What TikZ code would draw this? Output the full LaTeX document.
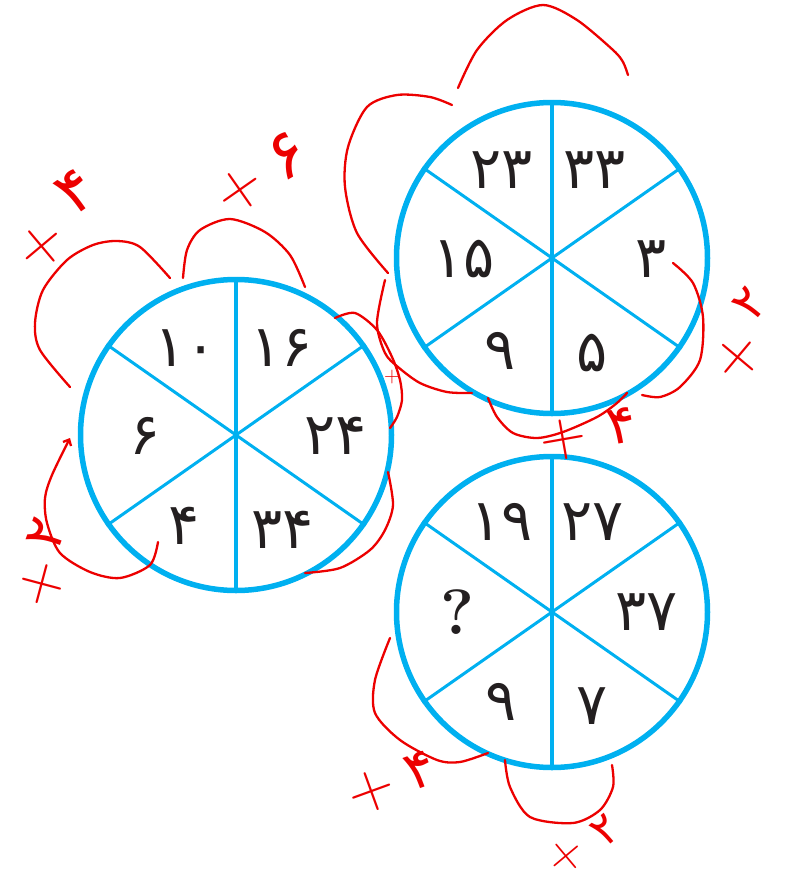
\documentclass[tikz,border=0pt]{standalone}
\usepackage{fontspec}
\usepackage{tikz}
\usetikzlibrary{arrows.meta}
\newfontfamily\farsi{DejaVu Sans}
\definecolor{ringblue}{RGB}{0,176,240}
\definecolor{ink}{RGB}{35,31,32}
\definecolor{redpen}{RGB}{236,0,0}

\begin{document}
\begin{tikzpicture}[
    x=1pt,y=-1pt,
    wheel/.style={circle,draw=ringblue,line width=5.5pt,minimum size=311pt,inner sep=0pt},
    axis/.style={draw=ringblue,line width=4pt},
    spoke/.style={draw=ringblue,line width=3pt},
    num/.style={text=ink,font=\farsi\fontsize{58}{58}\selectfont,inner sep=0pt},
    arc/.style={draw=redpen,line width=2.3pt,line cap=round,line join=round},
    plus/.style={text=redpen,font=\fontsize{64}{64}\selectfont,inner sep=0pt},
    hand/.style={text=redpen,font=\farsi\fontsize{54}{54}\selectfont,inner sep=0pt}
]
    \useasboundingbox (0,0) rectangle (787,887);

    % the three wheels
    \node[wheel] (w1) at (236,435) {};
    \node[wheel] (w2) at (552,258) {};
    \node[wheel] (w3) at (552,612) {};
    \foreach \w in {w1,w2,w3} {
        \draw[axis] (\w.north) -- (\w.south);
        \foreach \a in {35,145,215,325}
            \draw[spoke] (\w.center) -- (\w.\a);
    }

    % numbers
    \node[num] (a10) at (186,348) {۱۰};
    \node[num] (a16) at (282,348) {۱۶};
    \node[num] (a6)  at (145,436) {۶};
    \node[num] (a24) at (336,436) {۲۴};
    \node[num] (a4)  at (184,526) {۴};
    \node[num] (a34) at (283,530) {۳۴};

    \node[num] (b23) at (502,170) {۲۳};
    \node[num] (b33) at (595,170) {۳۳};
    \node[num] (b15) at (464,259) {۱۵};
    \node[num] (b3)  at (651,259) {۳};
    \node[num] (b9)  at (500,351) {۹};
    \node[num] (b5)  at (592,353) {۵};

    \node[num] (c19) at (502,522) {۱۹};
    \node[num] (c27) at (593,522) {۲۷};
    \node[num,font=\bfseries\fontsize{64}{64}\selectfont] (cq) at (457,612) {?};
    \node[num] (c37) at (647,612) {۳۷};
    \node[num] (c9)  at (501,702) {۹};
    \node[num] (c7)  at (592,706) {۷};

    % red pen marks
    \draw[arc] plot[smooth] coordinates {(70,387) (40,350) (35,323) (43,290) (67,260) (93,245) (117,241) (140,247) (170,278)};
    \draw[arc] plot[smooth] coordinates {(183,278) (187,250) (200,230) (230,219) (265,232) (290,255) (305,287)};
    \draw[arc,-{Straight Barb[length=5pt,width=9pt]}] plot[smooth] coordinates {(158,542) (150,565) (120,578) (90,572) (60,553) (47,523) (45,498) (52,475) (70,438)};
    \draw[arc] plot[smooth] coordinates {(335,318) (355,313) (377,330) (392,357) (400,380) (402,400) (397,417) (390,428)};
    \draw[arc] plot[smooth] coordinates {(388,472) (393,505) (385,530) (370,550) (340,568) (305,573)};

    \draw[arc] plot[smooth] coordinates {(458,88) (477,50) (507,20) (543,5) (577,20) (613,50) (623,62) (628,75)};
    \draw[arc] plot[smooth] coordinates {(452,105) (430,97) (397,95) (367,107) (348,147) (345,187) (357,233) (388,273)};
    \draw[arc] plot[smooth] coordinates {(385,280) (377,323) (385,353) (398,367) (420,383) (447,392) (472,393)};
    \draw[arc] plot[smooth] coordinates {(673,263) (693,283) (703,317) (700,360) (680,387) (660,397) (642,395)};
    \draw[arc] plot[smooth] coordinates {(488,398) (497,417) (513,433) (537,438) (563,432) (597,417) (617,403) (627,393)};

    \draw[arc] plot[smooth] coordinates {(390,638) (375,680) (375,713) (400,740) (437,760) (460,762) (488,753)};
    \draw[arc] plot[smooth] coordinates {(505,760) (510,787) (530,817) (573,823) (600,810) (613,787) (612,765)};

    % handwritten steps
    \node[plus,rotate=40] (s1p) at (42,246) {+};
    \node[hand,rotate=35,font=\farsi\fontsize{62}{62}\selectfont] (s1d) at (76,192) {۴};
    \node[plus,rotate=35] (s2p) at (240,190) {+};
    \node[hand,rotate=30,font=\farsi\fontsize{68}{68}\selectfont] (s2d) at (287,156) {۶};
    \node[plus,rotate=75] (s3p) at (42,584) {+};
    \node[hand,rotate=70] (s3d) at (46,534) {۲};
    \node[plus,rotate=50] (s4p) at (738,358) {+};
    \node[hand,rotate=50,font=\farsi\fontsize{48}{48}\selectfont] (s4d) at (750,304) {۲};
    \node[plus,rotate=10] (s5p) at (563,440) {+};
    \node[hand,rotate=10] (s5d) at (622,426) {۴};
    \node[plus,rotate=20] (s6p) at (372,792) {+};
    \node[hand,rotate=20] (s6d) at (420,770) {۴};
    \node[plus,rotate=40,font=\fontsize{50}{50}\selectfont] (s7p) at (566,856) {+};
    \node[hand,rotate=40,font=\farsi\fontsize{44}{44}\selectfont] (s7d) at (606,830) {۲};
    \node[plus,font=\fontsize{22}{22}\selectfont] (s8) at (392,377) {+};
\end{tikzpicture}
\end{document}
